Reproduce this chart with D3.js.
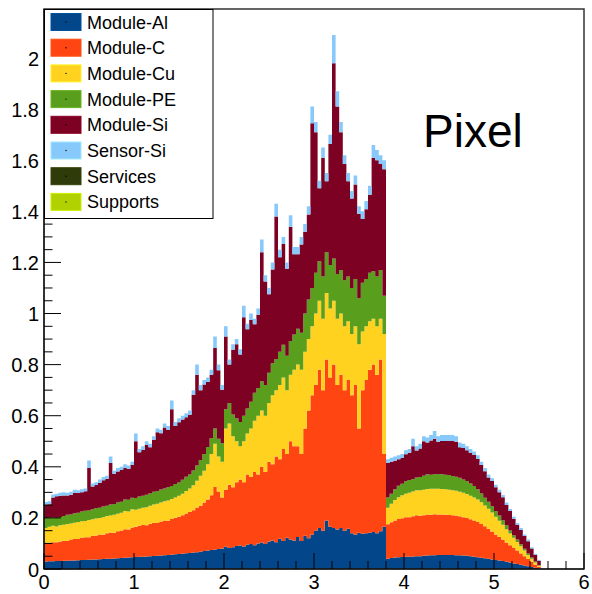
<!DOCTYPE html>
<html>
<head>
<meta charset="utf-8">
<script src="https://cdn.jsdelivr.net/npm/d3@7"></script>
<style>
  html, body { margin: 0; padding: 0; background: #fff; }
  svg { display: block; }
</style>
</head>
<body>
<svg id="chart" width="592" height="594"></svg>
<script>
// Pixel tracker material budget vs. |eta|, stacked by component.
// Each array holds one value per eta bin of width 0.04, starting at eta = 0.
const binWidth = 0.04;

const moduleAl = [
  0.029,0.030,0.030,0.031,0.031, 0.032,0.032,0.033,0.033,0.034, 0.035,0.035,0.036,0.037,0.037, 0.038,0.039,0.040,0.040,0.041, 0.042,0.043,0.044,0.045,0.046,
  0.047,0.048,0.048,0.049,0.050, 0.051,0.052,0.053,0.054,0.055, 0.056,0.058,0.059,0.060,0.062, 0.063,0.065,0.066,0.068,0.070, 0.072,0.074,0.076,0.078,0.080,
  0.088,0.082,0.085,0.090,0.092, 0.088,0.095,0.098,0.093,0.100, 0.104,0.098,0.108,0.112,0.105, 0.118,0.110,0.122,0.115,0.112,
  0.125,0.110,0.130,0.120,0.135, 0.150,0.160,0.150,0.190,0.165, 0.160,0.155,0.160,0.150,0.158, 0.140,0.135,0.142,0.138,0.140, 0.142,0.145,0.140,0.148,0.165,
  0.040,0.043,0.045,0.046,0.047, 0.048,0.048,0.049,0.050,0.050, 0.052,0.053,0.054,0.054,0.055, 0.055,0.055,0.055,0.055,0.054, 0.054,0.053,0.052,0.050,0.048,
  0.046,0.044,0.042,0.040,0.037, 0.035,0.033,0.031,0.028,0.025, 0.022,0.020,0.017,0.014,0.011, 0.008,0.005,0.003,0,0
];

const moduleC = [
  0.071,0.073,0.075,0.074,0.077, 0.079,0.078,0.082,0.084,0.083, 0.087,0.089,0.088,0.092,0.094, 0.097,0.095,0.100,0.103,0.101, 0.106,0.108,0.112,0.110,0.116,
  0.118,0.121,0.124,0.122,0.127, 0.130,0.128,0.133,0.136,0.134, 0.140,0.143,0.146,0.150,0.155, 0.160,0.165,0.175,0.180,0.190, 0.200,0.215,0.245,0.225,0.200,
  0.222,0.248,0.235,0.250,0.258, 0.252,0.275,0.262,0.287,0.270, 0.296,0.282,0.312,0.298,0.335, 0.312,0.360,0.328,0.385,0.368,
  0.355,0.340,0.420,0.500,0.545, 0.570,0.620,0.550,0.630,0.585, 0.640,0.565,0.600,0.550,0.582, 0.540,0.585,0.408,0.562,0.600, 0.638,0.655,0.620,0.672,0.285,
  0.135,0.140,0.145,0.150,0.152, 0.155,0.155,0.157,0.160,0.158, 0.158,0.160,0.158,0.160,0.158, 0.158,0.157,0.156,0.155,0.155, 0.152,0.150,0.148,0.145,0.142,
  0.138,0.132,0.125,0.118,0.110, 0.100,0.092,0.084,0.076,0.068, 0.060,0.052,0.044,0.036,0.028, 0.020,0.012,0.006,0,0
];

const moduleCu = [
  0.060,0.062,0.064,0.061,0.063, 0.062,0.066,0.063,0.064,0.067, 0.065,0.064,0.068,0.066,0.067, 0.065,0.069,0.067,0.066,0.070, 0.068,0.069,0.071,0.070,0.072,
  0.067,0.067,0.068,0.071,0.071, 0.071,0.075,0.074,0.075,0.079, 0.078,0.079,0.082,0.085,0.088, 0.092,0.098,0.104,0.117,0.125, 0.138,0.161,0.169,0.137,0.140,
  0.24,0.24,0.20,0.16,0.13, 0.16,0.16,0.19,0.20,0.23, 0.22,0.22,0.23,0.27,0.26, 0.29,0.28,0.25,0.26,0.30,
  0.32,0.33,0.30,0.28,0.27, 0.28,0.27,0.28,0.26,0.27, 0.25,0.26,0.24,0.25,0.23, 0.24,0.23,0.33,0.23,0.21, 0.19,0.18,0.19,0.16,0.47,
  0.065,0.072,0.080,0.085,0.090, 0.092,0.095,0.097,0.098,0.100, 0.100,0.100,0.102,0.100,0.101, 0.100,0.100,0.099,0.098,0.097, 0.096,0.095,0.094,0.092,0.090,
  0.088,0.085,0.082,0.078,0.074, 0.070,0.064,0.058,0.052,0.046, 0.040,0.034,0.028,0.022,0.016, 0.012,0.008,0.004,0,0
];

const modulePE = [
  0.040,0.036,0.034,0.035,0.033, 0.034,0.036,0.035,0.037,0.036, 0.038,0.040,0.037,0.039,0.041, 0.040,0.042,0.041,0.043,0.042, 0.044,0.043,0.045,0.046,0.045,
  0.046,0.048,0.047,0.049,0.048, 0.050,0.049,0.051,0.050,0.052, 0.051,0.053,0.052,0.054,0.056, 0.055,0.058,0.060,0.062,0.065, 0.068,0.062,0.060,0.070,0.072,
  0.075,0.080,0.085,0.090,0.095, 0.100,0.098,0.105,0.110,0.108, 0.115,0.120,0.118,0.125,0.122, 0.130,0.128,0.135,0.132,0.138,
  0.140,0.145,0.150,0.155,0.150, 0.160,0.155,0.165,0.160,0.170, 0.165,0.175,0.170,0.180,0.175, 0.180,0.185,0.180,0.190,0.185, 0.190,0.185,0.195,0.190,0.150,
  0.040,0.040,0.042,0.045,0.045, 0.048,0.050,0.048,0.050,0.052, 0.055,0.058,0.055,0.057,0.058, 0.058,0.057,0.058,0.056,0.055, 0.055,0.052,0.050,0.048,0.045,
  0.040,0.035,0.030,0.027,0.025, 0.022,0.020,0.018,0.015,0.012, 0.010,0.009,0.008,0.007,0.006, 0.005,0.004,0.002,0,0
];

const moduleSi = [
  0.052,0.052,0.077,0.084,0.083, 0.081,0.076,0.078,0.080,0.078, 0.075,0.076,0.166,0.089,0.090, 0.098,0.102,0.105,0.163,0.119, 0.122,0.125,0.124,0.121,0.129,
  0.222,0.173,0.179,0.194,0.181, 0.204,0.231,0.220,0.239,0.225, 0.300,0.227,0.235,0.236,0.233, 0.234,0.296,0.355,0.273,0.272, 0.254,0.248,0.315,0.268,0.210,
  0.285,0.150,0.253,0.290,0.265, 0.385,0.310,0.320,0.268,0.287, 0.505,0.405,0.307,0.367,0.558, 0.370,0.394,0.340,0.448,0.314,
  0.292,0.345,0.320,0.333,0.645, 0.550,0.285,0.465,0.278,0.475, 0.765,0.655,0.540,0.455,0.373, 0.350,0.370,0.330,0.250,0.273, 0.305,0.445,0.455,0.415,0.495,
  0.135,0.125,0.112,0.104,0.100, 0.106,0.107,0.129,0.106,0.112, 0.135,0.124,0.134,0.139,0.126, 0.130,0.132,0.133,0.137,0.137, 0.120,0.124,0.121,0.120,0.121,
  0.119,0.111,0.104,0.095,0.098, 0.093,0.091,0.090,0.080,0.076, 0.065,0.058,0.056,0.050,0.048, 0.035,0.027,0.017,0,0
];

const sensorSi = [
  0.010,0.012,0.012,0.010,0.011, 0.012,0.010,0.011,0.012,0.010, 0.012,0.011,0.030,0.012,0.011, 0.012,0.013,0.012,0.025,0.012, 0.013,0.012,0.014,0.013,0.012,
  0.030,0.013,0.014,0.015,0.013, 0.014,0.015,0.014,0.016,0.015, 0.035,0.015,0.016,0.015,0.016, 0.016,0.018,0.040,0.020,0.018, 0.018,0.020,0.045,0.022,0.018,
  0.040,0.020,0.022,0.020,0.020, 0.045,0.022,0.025,0.022,0.025, 0.050,0.025,0.025,0.028,0.050, 0.030,0.028,0.025,0.045,0.028,
  0.028,0.030,0.030,0.032,0.065, 0.040,0.030,0.040,0.032,0.035, 0.110,0.060,0.040,0.035,0.032, 0.030,0.035,0.030,0.030,0.032, 0.035,0.050,0.040,0.035,0.035,
  0.015,0.015,0.016,0.015,0.016, 0.016,0.015,0.030,0.016,0.018, 0.020,0.020,0.022,0.030,0.022, 0.024,0.024,0.024,0.024,0.022, 0.018,0.016,0.015,0.015,0.014,
  0.014,0.013,0.012,0.012,0.011, 0.010,0.010,0.009,0.009,0.008, 0.008,0.007,0.007,0.006,0.006, 0.005,0.004,0.003,0,0
];

// Services and supports contribute nothing in this region.
const services = [];
const supports = [];

const seriesNames  = ["Module-Al", "Module-C", "Module-Cu", "Module-PE", "Module-Si", "Sensor-Si", "Services", "Supports"];
const seriesValues = [moduleAl, moduleC, moduleCu, modulePE, moduleSi, sensorSi, services, supports];
const seriesColors = ["#03478a", "#ff4612", "#ffd21f", "#5a9e1d", "#7c0122", "#88c9fb", "#2f3b09", "#b1d100"];

const xTickValues = [0, 1, 2, 3, 4, 5, 6];
const yTickValues = [0, 0.2, 0.4, 0.6, 0.8, 1, 1.2, 1.4, 1.6, 1.8, 2];
const titleText = "Pixel";

// ---- layout ----
const svg = d3.select("#chart");
const plot = { left: 44, right: 584, top: 9, bottom: 569 };
const font = "'Liberation Sans', Arial, Helvetica, sans-serif";

const x = d3.scaleLinear().domain([0, 6]).range([plot.left, plot.right]);
const y = d3.scaleLinear().domain([0, 2.192]).range([plot.bottom, plot.top]);

// ---- stacked table ----
const nBins = moduleAl.length;
const rows = [];
for (let i = 0; i <= nBins; i++) {
  const idx = Math.min(i, nBins - 1);
  const row = { eta: i * binWidth };
  seriesNames.forEach((name, k) => {
    const v = seriesValues[k][idx];
    row[name] = (v === undefined || i === nBins) ? 0 : v;
  });
  rows.push(row);
}
const stacked = d3.stack().keys(seriesNames)(rows);

svg.append("defs").append("clipPath").attr("id", "plotClip")
  .append("rect")
  .attr("x", plot.left).attr("y", plot.top)
  .attr("width", plot.right - plot.left).attr("height", plot.bottom - plot.top);

const area = d3.area()
  .x(d => x(d.data.eta))
  .y0(d => y(d[0]))
  .y1(d => y(d[1]))
  .curve(d3.curveStepAfter);

svg.append("g").attr("clip-path", "url(#plotClip)")
  .selectAll("path")
  .data(stacked)
  .join("path")
  .attr("d", area)
  .attr("fill", (d, i) => seriesColors[i])
  .attr("stroke", "none");

// ---- frame ----
svg.append("rect")
  .attr("x", plot.left).attr("y", plot.top)
  .attr("width", plot.right - plot.left).attr("height", plot.bottom - plot.top)
  .attr("fill", "none").attr("stroke", "#333").attr("stroke-width", 1.5);

// ---- axes ----
const axes = svg.append("g").attr("stroke", "#000").attr("stroke-width", 1);

// x ticks: majors at integers, minors every 0.2
const xMinor = d3.range(0, 6.0001, 0.2);
axes.selectAll("line.xt").data(xMinor).join("line")
  .attr("x1", d => x(d)).attr("x2", d => x(d))
  .attr("y1", plot.bottom)
  .attr("y2", d => plot.bottom - (Math.abs(d - Math.round(d)) < 1e-6 ? 16 : 8));

// y ticks: majors every 0.2, minors every 0.05
const yMinor = d3.range(0, 2.19, 0.05);
axes.selectAll("line.yt").data(yMinor).join("line")
  .attr("y1", d => y(d)).attr("y2", d => y(d))
  .attr("x1", plot.left)
  .attr("x2", d => plot.left + (Math.abs(d * 5 - Math.round(d * 5)) < 1e-6 ? 17 : 8.5));

axes.append("line")
  .attr("x1", plot.left).attr("x2", plot.right)
  .attr("y1", plot.bottom).attr("y2", plot.bottom);
axes.append("line")
  .attr("x1", plot.left).attr("x2", plot.left)
  .attr("y1", plot.top).attr("y2", plot.bottom);

const fmt = d3.format("~g");
svg.append("g").selectAll("text").data(xTickValues).join("text")
  .attr("x", d => x(d)).attr("y", 589)
  .attr("text-anchor", "middle")
  .attr("font-family", font).attr("font-size", 20)
  .text(d => fmt(d));

svg.append("g").selectAll("text").data(yTickValues).join("text")
  .attr("x", 39).attr("y", d => y(d) + 7.5)
  .attr("text-anchor", "end")
  .attr("font-family", font).attr("font-size", 20)
  .text(d => fmt(d));

// ---- title ----
svg.append("text")
  .attr("x", 423).attr("y", 147)
  .attr("font-family", font).attr("font-size", 46)
  .text(titleText);

// ---- legend ----
const legend = svg.append("g");
legend.append("rect")
  .attr("x", 44.5).attr("y", 9.5).attr("width", 168.5).attr("height", 209)
  .attr("fill", "#fff").attr("stroke", "#000").attr("stroke-width", 1);

const rowStep = 25.7;
const entries = legend.selectAll("g.entry").data(seriesNames).join("g")
  .attr("transform", (d, i) => `translate(0, ${22 + i * rowStep})`);

entries.append("rect")
  .attr("x", 51).attr("y", -8.5).attr("width", 30).attr("height", 17)
  .attr("fill", (d, i) => seriesColors[i])
  .attr("stroke", (d, i) => d3.color(seriesColors[i]).brighter(0.4))
  .attr("stroke-width", 1);
entries.append("circle")
  .attr("cx", 66).attr("cy", 0).attr("r", 0.7).attr("fill", "#000");
entries.append("text")
  .attr("x", 87).attr("y", 6.5)
  .attr("font-family", font).attr("font-size", 18)
  .text(d => d);
</script>
</body>
</html>
